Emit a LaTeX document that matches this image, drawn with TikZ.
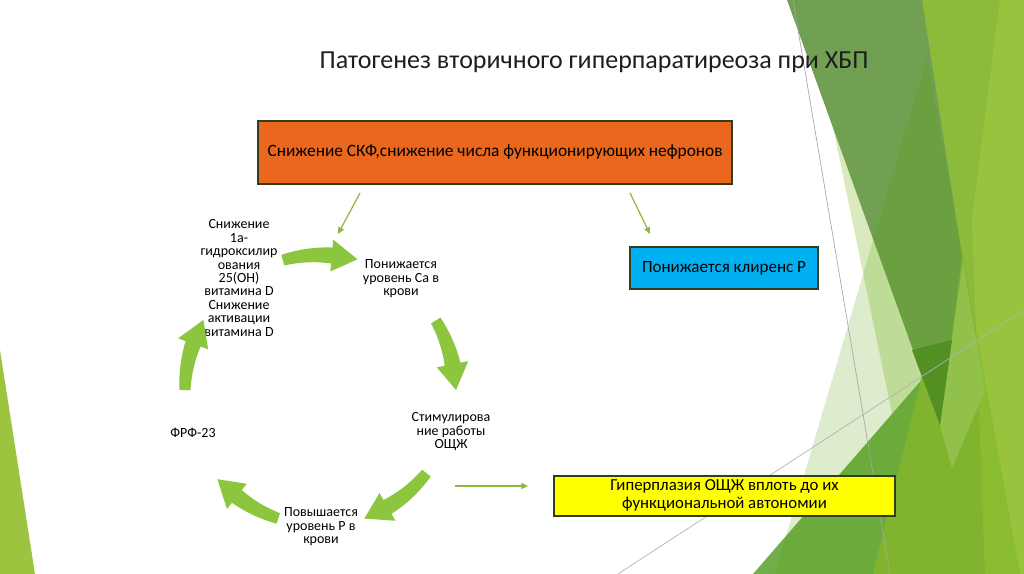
\documentclass[tikz,border=0pt]{standalone}
\usepackage{fontspec}
\setmainfont{Carlito}
\usetikzlibrary{arrows.meta}
\definecolor{zdark}{RGB}{113,160,82}
\definecolor{zbright}{RGB}{140,186,58}
\definecolor{zlight}{RGB}{158,200,66}
\definecolor{zmed}{RGB}{112,174,74}
\definecolor{zpale}{RGB}{218,234,190}
\definecolor{zover}{RGB}{85,160,0}
\definecolor{zdeep}{RGB}{82,140,46}
\definecolor{zsoft}{RGB}{162,202,94}
\definecolor{zleft}{RGB}{157,196,63}
\definecolor{cycgreen}{RGB}{140,198,63}
\definecolor{thingreen}{RGB}{140,185,60}
\definecolor{orangebox}{RGB}{233,104,30}
\definecolor{bluebox}{RGB}{0,176,240}
\definecolor{yellowbox}{RGB}{255,255,0}
\definecolor{boxline}{RGB}{50,60,30}
\definecolor{titlecol}{RGB}{30,30,30}
\newcommand{\cycarrow}[2]{%
  \pgfmathsetmacro{\cbase}{#2+11}%
  \fill[cycgreen]
    plot[domain=#1:\cbase,samples=24] ({320+(140.5+2.5*(#1-\x)/(#1-\cbase))*cos(\x)},{390-(140.5+2.5*(#1-\x)/(#1-\cbase))*sin(\x)})
    -- ({320+151*cos(\cbase)},{390-151*sin(\cbase)})
    -- ({320+136*cos(#2)},{390-136*sin(#2)})
    -- ({320+119*cos(\cbase)},{390-119*sin(\cbase)})
    -- plot[domain=\cbase:#1,samples=24] ({320+(129.5-2.5*(#1-\x)/(#1-\cbase))*cos(\x)},{390-(129.5-2.5*(#1-\x)/(#1-\cbase))*sin(\x)})
    -- cycle;}
\begin{document}
\begin{tikzpicture}[x=0.75pt,y=-0.75pt,
  cyctext/.style={align=center,inner sep=0pt,font=\fontsize{10.5}{10.1}\selectfont},
  thinarrow/.style={draw=thingreen,line width=0.9pt,-{Triangle[length=5pt,width=4.5pt]}},
  boxstyle/.style={draw=boxline,line width=1.2pt,align=center,inner sep=0pt}]
\useasboundingbox (0,0) rectangle (1024,574);
\fill[white] (0,0) rectangle (1024,574);
% background facets
\fill[zleft] (0,350) -- (0,574) -- (35,574) -- cycle;
\fill[zpale] (833,127) -- (925,574) -- (1000,574) -- (900,127) -- cycle;
\fill[zmed] (753,574) -- (1024,262) -- (1024,574) -- cycle;
\fill[zbright] (905,0) -- (1024,0) -- (1024,574) -- (873,574) -- (950,262) -- cycle;
\fill[zlight,opacity=0.7] (1000,0) -- (1024,0) -- (1024,574) -- (985,574) -- (972,220) -- cycle;
\fill[zsoft] (963,262) -- (985,390) -- (952,468) -- (940,425) -- cycle;
\fill[zdark] (787,0) -- (922,0) -- (962,257) -- (940,425) -- cycle;
\fill[zdeep] (912,350) -- (952,340) -- (940,425) -- cycle;
\fill[zover,opacity=0.2] (927,57) -- (775,574) -- (1020,574) -- cycle;
\draw[gray!70,line width=0.5pt] (793,0) -- (890,574);
\draw[gray!60,line width=0.5pt] (618,574) -- (1024,310);
% title
\node[font=\fontsize{19.5}{21}\selectfont,text=titlecol,inner sep=0pt] (title) at (594,62) {Патогенез вторичного гиперпаратиреоза при ХБП};
% boxes
\node[boxstyle,fill=orangebox,minimum width=355.5pt,minimum height=47.25pt,font=\fontsize{13}{14}\selectfont] (skf) at (495,152.5) {\raisebox{-1.5pt}{Снижение СКФ,снижение числа функционирующих нефронов}};
\node[boxstyle,fill=bluebox,minimum width=141pt,minimum height=31.5pt,font=\fontsize{12.8}{14}\selectfont] (clear) at (724,268) {\raisebox{-1pt}{Понижается клиренс Р}};
\node[boxstyle,fill=yellowbox,minimum width=255.75pt,minimum height=30pt,font=\fontsize{12.6}{13.2}\selectfont] (hyper) at (724.5,496) {\raisebox{-2.5pt}{\begin{tabular}{@{}c@{}}Гиперплазия ОЩЖ вплоть до их\\функциональной автономии\end{tabular}}};
% cycle texts
\node[cyctext] (vitd) at (239,278) {Снижение\\1а-\\гидроксилир\\ования\\25(ОН)\\витамина D\\Снижение\\активации\\витамина D};
\node[cyctext] (ca) at (401,279) {Понижается\\уровень Са в\\крови};
\node[cyctext] (pth) at (451,432) {Стимулирова\\ние работы\\ОЩЖ};
\node[cyctext] (phos) at (321,527) {Повышается\\уровень Р в\\крови};
\node[cyctext] (fgf) at (193,433) {ФРФ-23};
% cycle arrows
\cycarrow{106}{74}
\cycarrow{31}{0}
\cycarrow{-38}{-71}
\cycarrow{-108}{-139}
\cycarrow{180}{149}
% thin arrows
\coordinate (a1s) at (360,193);
\coordinate (a1e) at (338,234);
\coordinate (a2s) at (630,193);
\coordinate (a2e) at (650,234);
\coordinate (a3s) at (455,486);
\coordinate (a3e) at (528,486);
\draw[thinarrow] (a1s) -- (a1e);
\draw[thinarrow] (a2s) -- (a2e);
\draw[thinarrow] (a3s) -- (a3e);
\end{tikzpicture}
\end{document}
